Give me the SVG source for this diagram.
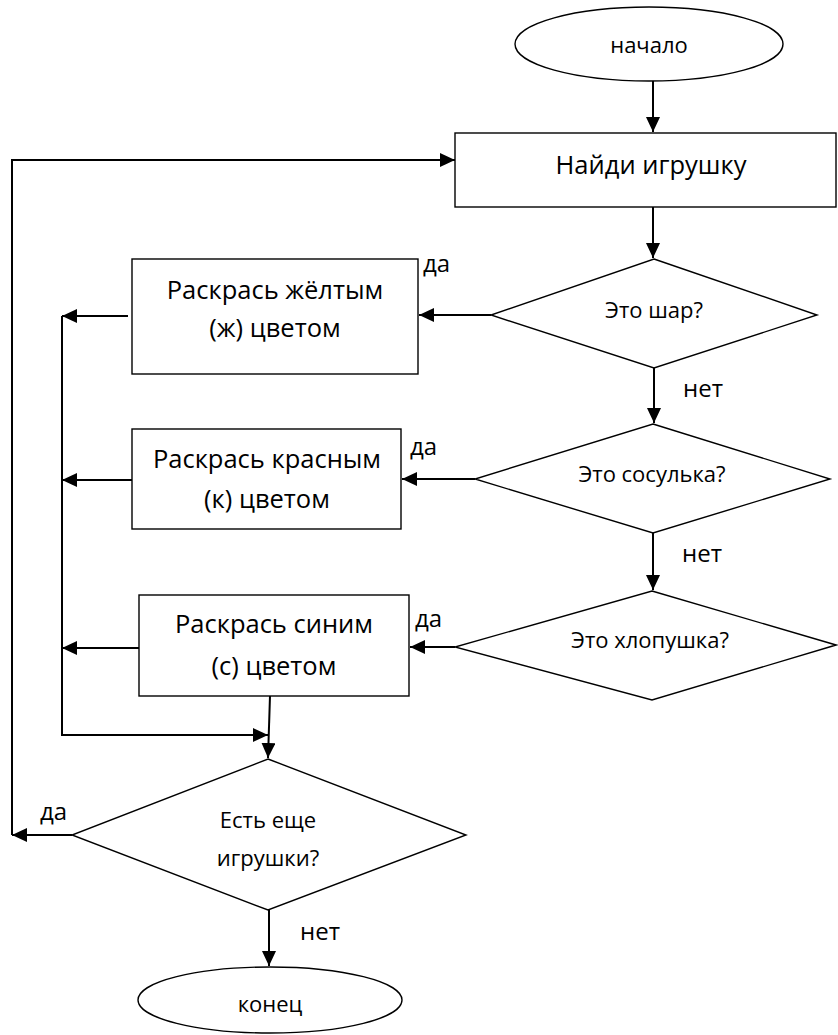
<svg xmlns="http://www.w3.org/2000/svg" width="838" height="1035" viewBox="0 0 838 1035">
<style>
.shape{fill:#fff;stroke:#000;stroke-width:1.4}
.conn{fill:none;stroke:#000;stroke-width:2}
.t{font-family:"Open Sans","Noto Sans","Liberation Sans",sans-serif;fill:#000;text-anchor:middle}
.big{font-size:25.5px}
.mid{font-size:22px}
.lbl{font-family:"Open Sans","Noto Sans","Liberation Sans",sans-serif;font-size:24px;fill:#000}
</style>
<defs>
<marker id="ah" markerUnits="userSpaceOnUse" markerWidth="15" markerHeight="14" refX="15" refY="7" orient="auto">
<path d="M0,0 L15,7 L0,14 z" fill="#000"/>
</marker>
</defs>
<rect width="838" height="1035" fill="#fff"/>
<g id="connectors">
<line class="conn" x1="653" y1="80" x2="653" y2="132" marker-end="url(#ah)"/>
<line class="conn" x1="653" y1="207" x2="653" y2="258" marker-end="url(#ah)"/>
<line class="conn" x1="654" y1="368" x2="654" y2="423" marker-end="url(#ah)"/>
<line class="conn" x1="653" y1="533" x2="653" y2="590" marker-end="url(#ah)"/>
<line class="conn" x1="491" y1="315" x2="419" y2="315" marker-end="url(#ah)"/>
<line class="conn" x1="475" y1="479" x2="402" y2="479" marker-end="url(#ah)"/>
<line class="conn" x1="455" y1="647" x2="410" y2="647" marker-end="url(#ah)"/>
<line class="conn" x1="128" y1="316" x2="62" y2="316" marker-end="url(#ah)"/>
<line class="conn" x1="132" y1="480" x2="62" y2="480" marker-end="url(#ah)"/>
<line class="conn" x1="140" y1="648" x2="62" y2="648" marker-end="url(#ah)"/>
<polyline class="conn" points="62,316 62,735 268,735" marker-end="url(#ah)"/>
<line class="conn" x1="270" y1="696" x2="268" y2="758" marker-end="url(#ah)"/>
<line class="conn" x1="72" y1="835" x2="12" y2="835" marker-end="url(#ah)"/>
<polyline class="conn" points="12,835 12,160 455,160" marker-end="url(#ah)"/>
<line class="conn" x1="269" y1="910" x2="269" y2="966" marker-end="url(#ah)"/>
</g>
<g id="start">
<ellipse class="shape" cx="649" cy="44" rx="134" ry="37"/>
<text class="t mid" x="649" y="53">начало</text>
</g>
<g id="find">
<rect class="shape" x="455" y="133" width="381" height="74"/>
<text class="t big" x="651" y="174">Найди игрушку</text>
</g>
<g id="d1">
<polygon class="shape" points="654,259 817,315 654,368 491,315"/>
<text class="t mid" x="654" y="318">Это шар?</text>
</g>
<g id="d2">
<polygon class="shape" points="653,424 830,479 653,533 475,479"/>
<text class="t mid" x="652" y="482">Это сосулька?</text>
</g>
<g id="d3">
<polygon class="shape" points="652,591 836,645 652,700 455,647"/>
<text class="t mid" x="650" y="648">Это хлопушка?</text>
</g>
<g id="r1">
<rect class="shape" x="132" y="259" width="286" height="115"/>
<text class="t big" x="275" y="299">Раскрась жёлтым</text>
<text class="t big" x="275" y="337">(ж) цветом</text>
</g>
<g id="r2">
<rect class="shape" x="132" y="429" width="269" height="100"/>
<text class="t big" x="267" y="468">Раскрась красным</text>
<text class="t big" x="267" y="508">(к) цветом</text>
</g>
<g id="r3">
<rect class="shape" x="139" y="595" width="270" height="101"/>
<text class="t big" x="274" y="633">Раскрась синим</text>
<text class="t big" x="274" y="675">(с) цветом</text>
</g>
<g id="d4">
<polygon class="shape" points="268,759 466,835 268,910 72,835"/>
<text class="t mid" x="268" y="828">Есть еще</text>
<text class="t mid" x="268" y="866">игрушки?</text>
</g>
<g id="end">
<ellipse class="shape" cx="270" cy="1000" rx="132" ry="33"/>
<text class="t mid" x="270" y="1012">конец</text>
</g>
<g id="labels">
<text class="lbl" x="423" y="272">да</text>
<text class="lbl" x="410" y="455">да</text>
<text class="lbl" x="415" y="627">да</text>
<text class="lbl" x="40" y="820">да</text>
<text class="lbl" x="683" y="397">нет</text>
<text class="lbl" x="682" y="562">нет</text>
<text class="lbl" x="300" y="940">нет</text>
</g>
</svg>
